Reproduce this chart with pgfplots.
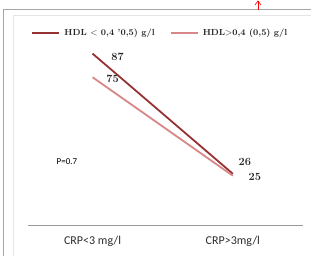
\documentclass[border=0pt]{standalone}
\usepackage{fontspec}
\setsansfont{Carlito}
\usepackage{pgfplots}
\pgfplotsset{compat=1.18}
\usetikzlibrary{arrows.meta}
\definecolor{darkred}{RGB}{150,50,50}
\definecolor{lightred}{RGB}{215,135,135}
\definecolor{txtgray}{RGB}{45,45,45}
\begin{document}
\begin{tikzpicture}[x=1pt,y=1pt]
\path[use as bounding box] (0,0) rectangle (311,256);
\fill[white] (0,0) rectangle (311,256);
\draw[gray!70, line width=1pt] (3,0) -- (3,246) -- (311,246);
\draw[gray!20, line width=0.8pt] (13,0) -- (13,241) -- (311,241);
\draw[red, line width=0.6pt, -{Straight Barb[length=4pt,width=6pt]}] (258,246) -- (258,255.5);
\begin{axis}[
  at={(28pt,31pt)}, anchor=south west,
  scale only axis, width=275pt, height=197pt,
  xmin=-0.46, xmax=1.5, ymin=0, ymax=100,
  axis x line=bottom, axis y line=none,
  x axis line style={-, draw=gray!80, line width=0.9pt},
  xtick={0,1}, xticklabels={CRP<3 mg/l, CRP>3mg/l},
  major tick length=0pt,
  xticklabel style={font=\sffamily\fontsize{12}{12}\selectfont, text=txtgray, yshift=-8pt},
  legend columns=2,
  legend style={at={(0.485,0.975)}, anchor=center, draw=none, fill=none,
    font=\bfseries\fontsize{8.8}{10}\selectfont, text=black!85,
    /tikz/every even column/.append style={column sep=11pt},
    /tikz/every odd column/.append style={column sep=0pt},
    nodes={inner xsep=4pt}},
  legend image code/.code={\draw[#1, line width=2pt] (0pt,0pt) -- (27pt,0pt);},
  nodes near coords, point meta=explicit symbolic,
  visualization depends on={value \thisrow{dx} \as \dx},
  visualization depends on={value \thisrow{dy} \as \dy},
  every node near coord/.append style={anchor=center, xshift=\dx pt, yshift=\dy pt,
    font=\bfseries\fontsize{11}{11}\selectfont, text=black!85},
  clip=false,
]
\addplot[darkred, line width=1.8pt] table[meta=lab] {
x y dx dy lab
0 87 25 -3 87
1 26 12 12 26
};
\addlegendentry{HDL $<$ 0,4 '0,5) g/l}
\addplot[lightred, line width=1.8pt] table[meta=lab] {
x y dx dy lab
0 75 20 -2 75
1 25 22 -1 25
};
\addlegendentry{HDL$>$0,4 (0,5) g/l}
\end{axis}
\node[font=\sffamily\fontsize{9}{10}\selectfont] at (67,94) {P=0.7};
\end{tikzpicture}
\end{document}
